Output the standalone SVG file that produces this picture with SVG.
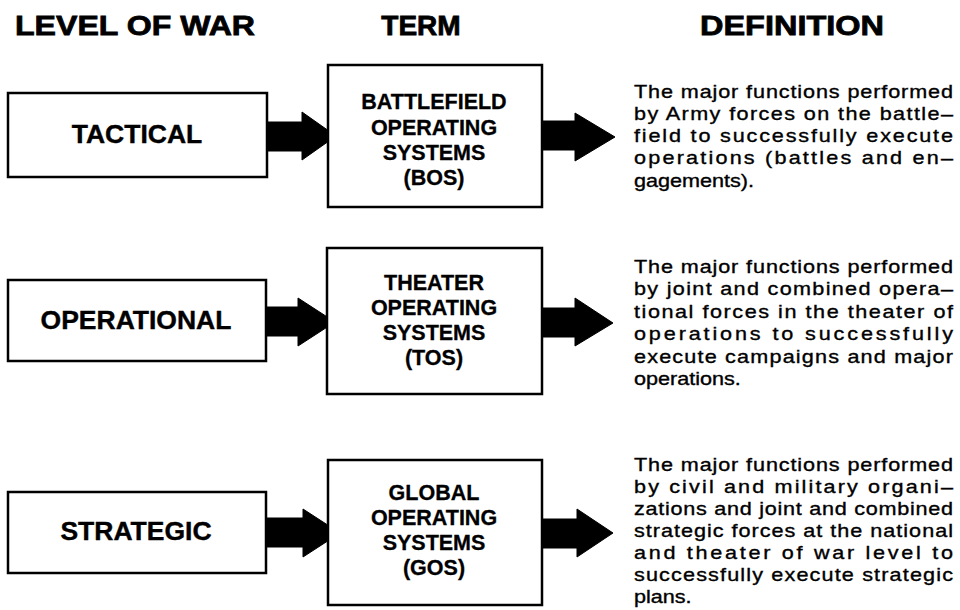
<svg xmlns="http://www.w3.org/2000/svg" width="960" height="610" viewBox="0 0 960 610">
<style>
.hdr{font-family:"Liberation Sans",Arial,sans-serif;font-weight:bold;font-size:28px;fill:#000;stroke:#000;stroke-width:0.8}
.lvl{font-family:"Liberation Sans",Arial,sans-serif;font-weight:bold;font-size:26.5px;fill:#000;text-anchor:middle;stroke:#000;stroke-width:0.4}
.term{font-family:"Liberation Sans",Arial,sans-serif;font-weight:bold;font-size:21.5px;fill:#000;text-anchor:middle;stroke:#000;stroke-width:0.3}
.def{font-family:"Liberation Sans",Arial,sans-serif;font-size:18px;fill:#000;stroke:#000;stroke-width:0.35}
.box{fill:#fff;stroke:#000;stroke-width:2.5}
.arr{fill:#000;stroke:#000;stroke-width:1}
</style>
<rect width="960" height="610" fill="#fff"/>
<g id="headers">
<text class="hdr" x="15" y="35" textLength="240" lengthAdjust="spacingAndGlyphs">LEVEL OF WAR</text>
<text class="hdr" x="421" y="35" text-anchor="middle">TERM</text>
<text class="hdr" x="700" y="35" textLength="184" lengthAdjust="spacingAndGlyphs">DEFINITION</text>
</g>
<g id="connectors">
<polygon class="arr" points="267,122 302,122 302,112 336,136 302,160 302,151 267,151"/>
<polygon class="arr" points="542,121 575,121 575,113 615,137 575,161 575,150 542,150"/>
<polygon class="arr" points="266,307 298,307 298,298 335,322 298,346 298,336 266,336"/>
<polygon class="arr" points="542,308 575,308 575,298 613,323 575,346 575,337 542,337"/>
<polygon class="arr" points="266,518 303,518 303,509 340,533 303,557 303,547 266,547"/>
<polygon class="arr" points="542,519 577,519 577,509 613,533 577,557 577,548 542,548"/>
</g>
<g id="tactical">
<rect class="box" x="8" y="93" width="259" height="84"/>
<text class="lvl" x="137" y="143">TACTICAL</text>
</g>
<g id="bos">
<rect class="box" x="328" y="65" width="214" height="142"/>
<text class="term" x="434" y="109">BATTLEFIELD</text>
<text class="term" x="434" y="135">OPERATING</text>
<text class="term" x="434" y="160">SYSTEMS</text>
<text class="term" x="434" y="185">(BOS)</text>
</g>
<g id="def-bos" transform="translate(634,0) scale(1.2,1)">
<text class="def" x="0" y="98" textLength="265.8" lengthAdjust="spacing">The major functions performed</text>
<text class="def" x="0" y="120" textLength="265.8" lengthAdjust="spacing">by Army forces on the battle–</text>
<text class="def" x="0" y="142.5" textLength="265.8" lengthAdjust="spacing">field to successfully execute</text>
<text class="def" x="0" y="164.5" textLength="265.8" lengthAdjust="spacing">operations (battles and en–</text>
<text class="def" x="0" y="187">gagements).</text>
</g>
<g id="operational">
<rect class="box" x="8" y="280" width="258" height="81"/>
<text class="lvl" x="136" y="329">OPERATIONAL</text>
</g>
<g id="tos">
<rect class="box" x="327" y="248" width="215" height="146"/>
<text class="term" x="434" y="290">THEATER</text>
<text class="term" x="434" y="315">OPERATING</text>
<text class="term" x="434" y="340">SYSTEMS</text>
<text class="term" x="434" y="365">(TOS)</text>
</g>
<g id="def-tos" transform="translate(634,0) scale(1.2,1)">
<text class="def" x="0" y="273" textLength="265.8" lengthAdjust="spacing">The major functions performed</text>
<text class="def" x="0" y="295.5" textLength="265.8" lengthAdjust="spacing">by joint and combined opera–</text>
<text class="def" x="0" y="318" textLength="265.8" lengthAdjust="spacing">tional forces in the theater of</text>
<text class="def" x="0" y="340.5" textLength="265.8" lengthAdjust="spacing">operations to successfully</text>
<text class="def" x="0" y="363" textLength="265.8" lengthAdjust="spacing">execute campaigns and major</text>
<text class="def" x="0" y="385.5">operations.</text>
</g>
<g id="strategic">
<rect class="box" x="8" y="492" width="258" height="81"/>
<text class="lvl" x="136" y="540">STRATEGIC</text>
</g>
<g id="gos">
<rect class="box" x="328" y="460" width="214" height="145"/>
<text class="term" x="434" y="500">GLOBAL</text>
<text class="term" x="434" y="525">OPERATING</text>
<text class="term" x="434" y="550">SYSTEMS</text>
<text class="term" x="434" y="575">(GOS)</text>
</g>
<g id="def-gos" transform="translate(634,0) scale(1.2,1)">
<text class="def" x="0" y="471" textLength="265.8" lengthAdjust="spacing">The major functions performed</text>
<text class="def" x="0" y="493" textLength="265.8" lengthAdjust="spacing">by civil and military organi–</text>
<text class="def" x="0" y="515" textLength="265.8" lengthAdjust="spacing">zations and joint and combined</text>
<text class="def" x="0" y="537" textLength="265.8" lengthAdjust="spacing">strategic forces at the national</text>
<text class="def" x="0" y="559" textLength="265.8" lengthAdjust="spacing">and theater of war level to</text>
<text class="def" x="0" y="581" textLength="265.8" lengthAdjust="spacing">successfully execute strategic</text>
<text class="def" x="0" y="603">plans.</text>
</g>
</svg>
